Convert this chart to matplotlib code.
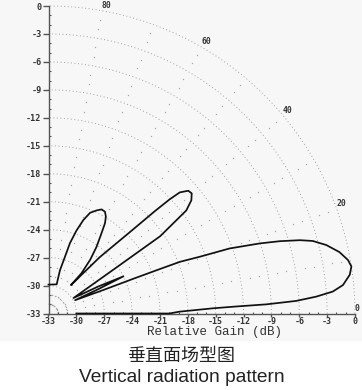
import numpy as np
import matplotlib
matplotlib.use("Agg")
import matplotlib.pyplot as plt
from matplotlib.patches import Rectangle

# ---- data ----
gain_ticks = [-33, -30, -27, -24, -21, -18, -15, -12, -9, -6, -3, 0]
angle_labels = [80, 60, 40, 20, 0]
grid_angles = [10, 20, 30, 40, 50, 60, 70, 80]

pattern_angle_deg = [
    90.0, 74.3, 75.1, 73.8, 73.0, 71.3, 69.5, 67.5, 65.0, 62.9, 60.9, 59.3,
    57.9, 56.5, 54.1, 52.1, 50.6, 51.6,
    47.6, 44.9, 43.8, 43.2, 42.6, 41.2, 39.9, 38.3, 36.7, 36.0, 34.6, 34.4,
    34.1, 33.6, 31.7,
    28.4, 26.3, 26.0, 26.5,
    23.1, 22.2, 21.7, 21.4, 20.5, 19.7, 18.3, 17.3, 16.2, 15.3, 13.8, 11.9,
    10.1, 8.8, 7.3, 5.5, 4.4, 3.6, 2.9, 2.4, 2.1, 1.8, 0.8, 0.0, 0.0,
]
pattern_gain_db = [
    -29.9, -29.75, -28.2, -26.7, -25.1, -23.6, -22.3, -21.3, -20.8, -20.45, -20.5, -20.9,
    -21.55, -22.65, -24.2, -25.7, -27.4, -29.1,
    -24.8, -20.6, -17.1, -15.1, -13.8, -13.0, -12.9, -13.4, -14.5, -16.0, -18.4, -21.1,
    -23.7, -26.35, -29.84,
    -26.9, -24.0, -26.9, -29.8,
    -26.5, -23.1, -20.1, -17.8, -15.6, -12.3, -9.05, -6.9, -4.8, -3.5, -2.2, -1.0,
    -0.25, 0.0, -0.3, -1.15, -2.3, -4.1, -6.3, -9.5, -13.1, -15.3, -18.9, -20.0, -30.0,
]

FLOOR = -33.0
W, H = 362, 390

fig = plt.figure(figsize=(W / 100, H / 100), dpi=100, facecolor="white")
fig.add_artist(Rectangle((0, (H - 341) / H), 1, 341 / H, transform=fig.transFigure,
                         facecolor="#f7f7f7", edgecolor="none", zorder=-10))

ax = fig.add_axes([48.5 / W, (H - 313.5) / H, 306.5 / W, 307.5 / H])
ax.set_facecolor("none")
ax.set_xlim(FLOOR, 0)
ax.set_ylim(FLOOR, 0)

def to_xy(theta_deg, gain):
    r = np.asarray(gain, float) - FLOOR
    t = np.radians(np.asarray(theta_deg, float))
    return FLOOR + r * np.cos(t), FLOOR + r * np.sin(t)

# grid arcs
t = np.linspace(0, 90, 300)
for g in [-32, -31] + list(range(-30, 1, 3)):
    x, y = to_xy(t, np.full_like(t, g))
    ax.plot(x, y, color="#a0a0a0", lw=0.7, ls=(0, (1, 2.6)), zorder=1, clip_on=False)

# radial dotted lines
for a in grid_angles:
    rr = np.array([g for g in range(-32, 0) if (g - FLOOR) % 3 != 0], float)
    x, y = to_xy(np.full_like(rr, a), rr)
    ax.plot(x, y, ls="none", marker="s", ms=0.9, mec="none", mfc="#a8a8a8", zorder=1)

# pattern
px, py = to_xy(pattern_angle_deg, pattern_gain_db)
ax.plot(px, py, color="#111111", lw=1.25, zorder=3, clip_on=False,
        solid_joinstyle="round")

# angle labels
for a in angle_labels:
    x, y = to_xy([a], [0.0])
    ax.annotate(str(a), (x[0], y[0]), xytext=(-0.3, 3.8), textcoords="offset points",
                ha="left", va="center", fontsize=5.8, fontweight="bold",
                family="DejaVu Sans Mono", color="#333333", annotation_clip=False)

# axes styling
for s in ["top", "right"]:
    ax.spines[s].set_visible(False)
for s in ["left", "bottom"]:
    ax.spines[s].set_color("#555555")
    ax.spines[s].set_linewidth(1.0)

ax.set_xticks(gain_ticks)
ax.set_yticks(gain_ticks)
ax.set_xticklabels([str(v) for v in gain_ticks])
ax.set_yticklabels([str(v) for v in gain_ticks])
ax.set_xticks(np.arange(-33, 1, 1), minor=True)
ax.set_yticks(np.arange(-33, 1, 1), minor=True)
ax.tick_params(axis="y", which="major", direction="out", length=4, width=1.0,
               color="#555555", pad=1, labelsize=6.1, labelcolor="#333333")
ax.tick_params(axis="x", which="major", direction="out", length=2.0, width=1.0,
               color="#555555", pad=0.2, labelsize=6.0, labelcolor="#333333")
ax.tick_params(which="minor", direction="in", length=1.6, width=0.8, color="#555555")
for lab in ax.get_xticklabels() + ax.get_yticklabels():
    lab.set_fontweight("bold")
    lab.set_family("DejaVu Sans Mono")

fig.text(214 / W, 1 - 331.5 / H, "Relative Gain (dB)", ha="center", va="center",
         family="Liberation Mono", fontsize=9.0, color="#333333")

fig.text(181 / W, 1 - 356 / H, "垂直面场型图", ha="center", va="center",
         family=["Noto Sans CJK SC", "DejaVu Sans"], fontsize=13, color="#222222")
fig.text(182 / W, 1 - 378 / H, "Vertical radiation pattern", ha="center", va="center",
         family="Liberation Sans", fontsize=13.8, color="#222222")

fig.savefig("out.png", dpi=100, facecolor="white")
